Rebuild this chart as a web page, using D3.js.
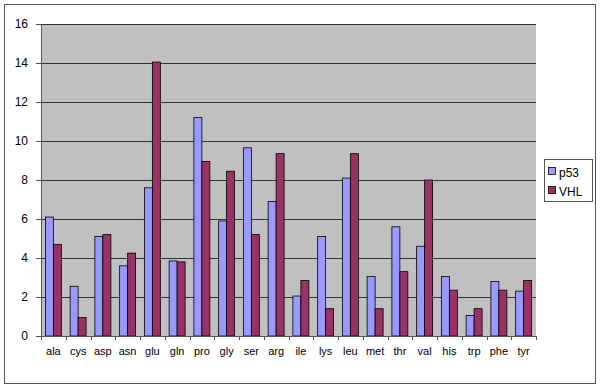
<!DOCTYPE html>
<html>
<head>
<meta charset="utf-8">
<script src="https://cdn.jsdelivr.net/npm/d3@7"></script>
<style>
  body { margin: 0; background: #fff; }
  svg { display: block; font-family: Arial, "Liberation Sans", sans-serif; }
</style>
</head>
<body>
<div id="chart"></div>
<script>
var categories = ["ala", "cys", "asp", "asn", "glu", "gln", "pro", "gly", "ser", "arg",
                  "ile", "lys", "leu", "met", "thr", "val", "his", "trp", "phe", "tyr"];
var p53 = [6.1, 2.55, 5.1, 3.6, 7.6, 3.85, 11.2, 5.9, 9.65, 6.9,
           2.05, 5.1, 8.1, 3.05, 5.6, 4.6, 3.05, 1.05, 2.8, 2.3];
var vhl = [4.7, 0.95, 5.2, 4.25, 14.05, 3.8, 8.95, 8.45, 5.2, 9.35,
           2.85, 1.4, 9.35, 1.4, 3.3, 8.0, 2.35, 1.4, 2.35, 2.85];
var seriesNames = ["p53", "VHL"];
var yTicks = [0, 2, 4, 6, 8, 10, 12, 14, 16];

var colors = ["#9999FF", "#993366"];
var series = [p53, vhl];

var W = 600, H = 387;
var margin = { top: 24, right: 64, bottom: 51, left: 41 },
    width = W - margin.left - margin.right,
    height = H - margin.top - margin.bottom;

var svg = d3.select("#chart").append("svg")
    .attr("width", W)
    .attr("height", H);

// outer frame
svg.append("rect")
    .attr("x", 4.5).attr("y", 4.5)
    .attr("width", 591).attr("height", 379)
    .attr("fill", "#fff")
    .attr("stroke", "#555")
    .attr("stroke-width", 1);

var g = svg.append("g")
    .attr("transform", "translate(" + margin.left + "," + margin.top + ")");

var x = d3.scaleBand()
    .domain(categories)
    .range([0, width]);

var y = d3.scaleLinear()
    .domain([0, 16])
    .range([height, 0]);

// plot background
g.append("rect")
    .attr("width", width).attr("height", height)
    .attr("fill", "#C0C0C0");

// gridlines
g.selectAll(".grid")
    .data(yTicks.slice(1))
    .enter().append("line")
    .attr("x1", 0).attr("x2", width)
    .attr("y1", function(d){ return Math.round(y(d)) + 0.5; })
    .attr("y2", function(d){ return Math.round(y(d)) + 0.5; })
    .attr("stroke", "#333")
    .attr("stroke-width", 1);

// bars, gap roughly 110% of a bar
var barW = x.bandwidth() / 3.1;
var pad = (x.bandwidth() - 2 * barW) / 2;
var xs = d3.scaleBand()
    .domain(seriesNames)
    .range([pad, pad + 2 * barW]);

series.forEach(function(vals, si){
    g.selectAll(".bar" + si)
        .data(vals)
        .enter().append("rect")
        .attr("x", function(d, i){ return x(categories[i]) + xs(seriesNames[si]); })
        .attr("width", xs.bandwidth())
        .attr("y", function(d){ return y(d); })
        .attr("height", function(d){ return height - y(d); })
        .attr("fill", colors[si])
        .attr("stroke", "#000")
        .attr("stroke-width", 0.8);
});

// y axis
var yAxis = g.append("g")
    .call(d3.axisLeft(y).tickValues(yTicks).tickSize(5).tickSizeOuter(0).tickPadding(8));
yAxis.select(".domain").attr("stroke", "#555");
yAxis.selectAll(".tick line").attr("stroke", "#555");
yAxis.selectAll("text").style("font-size", "12px").attr("fill", "#000");

// x axis
var xAxis = g.append("g")
    .attr("transform", "translate(0," + height + ")")
    .call(d3.axisBottom(x).tickSize(0).tickPadding(11));
xAxis.select(".domain").attr("stroke", "#555");
xAxis.selectAll("text").style("font-size", "11px").attr("fill", "#000");

// category separator ticks
g.selectAll(".xtick")
    .data(categories.concat(["end"]))
    .enter().append("line")
    .attr("x1", function(d, i){ return Math.round(i * x.step()) + 0.5; })
    .attr("x2", function(d, i){ return Math.round(i * x.step()) + 0.5; })
    .attr("y1", height).attr("y2", height + 4)
    .attr("stroke", "#555");

// legend
var legend = svg.append("g").attr("transform", "translate(544,159)");
legend.append("rect")
    .attr("x", 0.5).attr("y", 0.5)
    .attr("width", 48).attr("height", 42)
    .attr("fill", "#fff")
    .attr("stroke", "#555");

seriesNames.forEach(function(name, i){
    var row = legend.append("g").attr("transform", "translate(0," + (13 + i * 19) + ")");
    row.append("rect")
        .attr("x", 4.5).attr("y", -4.5)
        .attr("width", 7).attr("height", 7)
        .attr("fill", colors[i])
        .attr("stroke", "#000")
        .attr("stroke-width", 0.8);
    row.append("text")
        .attr("x", 15).attr("y", 4.5)
        .style("font-size", "12px")
        .text(name);
});
</script>
</body>
</html>
